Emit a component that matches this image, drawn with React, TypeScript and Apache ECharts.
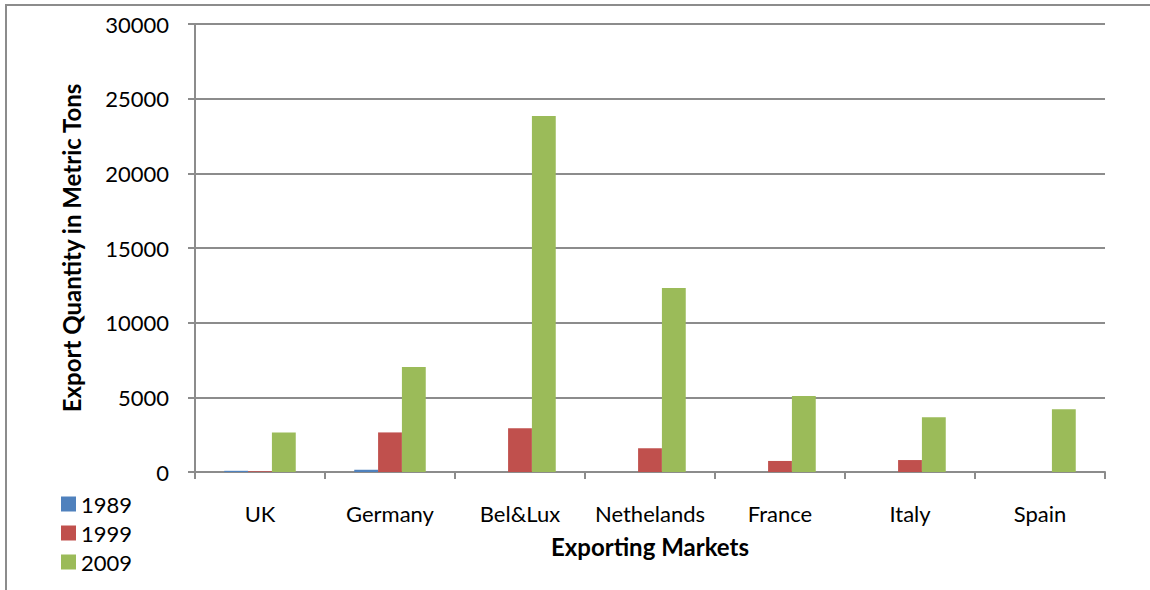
import React, { useEffect, useRef } from "react";
import * as echarts from "echarts";

const categories = ["UK", "Germany", "Bel&Lux", "Nethelands", "France", "Italy", "Spain"];
const s1989 = [80, 150, 0, 0, 0, 0, 0];
const s1999 = [50, 2650, 2930, 1590, 740, 800, 0];
const s2009 = [2650, 7030, 23840, 12320, 5090, 3660, 4200];
const seriesNames = ["1989", "1999", "2009"];
const colors = ["#4F81BD", "#C0504D", "#9BBB59"];

const FONT = "Lato";

export default function App() {
  const ref = useRef<HTMLDivElement>(null);
  useEffect(() => {
    document.body.style.margin = "0";
    const chart = echarts.init(ref.current!, null, { renderer: "svg" });
    const data = [s1989, s1999, s2009];
    chart.setOption({
      animation: false,
      backgroundColor: "#ffffff",
      textStyle: { fontFamily: FONT },
      graphic: [
        {
          type: "rect",
          shape: { x: 6, y: 5, width: 1160, height: 600 },
          style: { fill: "none", stroke: "#8c8c8c", lineWidth: 2 },
          silent: true,
        },
      ],
      legend: {
        orient: "vertical",
        left: 56,
        top: 486,
        height: 100,
        itemWidth: 15,
        itemHeight: 15,
        itemGap: 3,
        icon: "rect",
        data: seriesNames,
        textStyle: { fontFamily: FONT, fontSize: 22, lineHeight: 26, color: "#000" },
      },
      grid: { left: 195, right: 45, top: 24, bottom: 118 },
      xAxis: {
        type: "category",
        data: categories,
        name: "Exporting Markets",
        nameLocation: "middle",
        nameGap: 62,
        nameTextStyle: { fontFamily: FONT, fontSize: 24, fontWeight: "bold", color: "#000" },
        axisLine: { lineStyle: { color: "#8c8c8c", width: 2 } },
        axisTick: { show: true, length: 7, lineStyle: { color: "#8c8c8c", width: 2 } },
        axisLabel: { interval: 0, fontFamily: FONT, fontSize: 22, color: "#000", margin: 30 },
      },
      yAxis: {
        type: "value",
        min: 0,
        max: 30000,
        interval: 5000,
        name: "Export Quantity in Metric Tons",
        nameLocation: "middle",
        nameGap: 112,
        nameTextStyle: { fontFamily: FONT, fontSize: 24, fontWeight: "bold", color: "#000" },
        axisLine: { show: true, lineStyle: { color: "#8c8c8c", width: 2 } },
        axisTick: { show: true, length: 7, lineStyle: { color: "#8c8c8c", width: 2 } },
        axisLabel: {
          fontFamily: FONT,
          fontSize: 22,
          color: "#000",
          margin: 26,
          formatter: (v: number) => String(v),
        },
        splitLine: { lineStyle: { color: "#8c8c8c", width: 2 } },
      },
      series: seriesNames.map((n, i) => ({
        name: n,
        type: "bar",
        data: data[i],
        barGap: "0%",
        barCategoryGap: "45%",
        itemStyle: { color: colors[i] },
      })),
    });
    return () => chart.dispose();
  }, []);
  return <div ref={ref} style={{ position: "absolute", left: 0, top: 0, width: 1150, height: 590 }} />;
}
